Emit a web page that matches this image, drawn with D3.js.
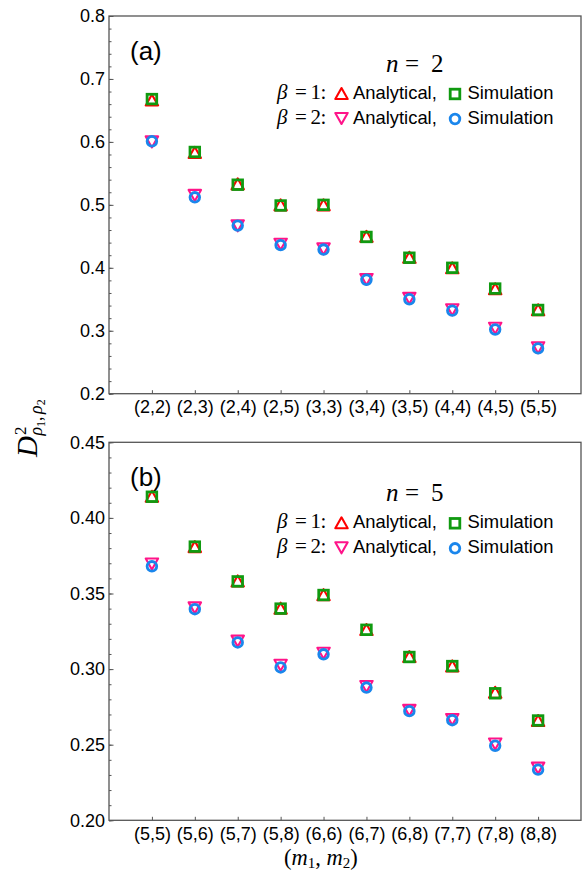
<!DOCTYPE html>
<html lang="en">
<head>
<meta charset="UTF-8">
<title>Distance vs (m1, m2)</title>
<script src="https://d3js.org/d3.v7.min.js"></script>
<style>
  body { margin: 0; background: #fff; }
  svg { display: block; }
  .sans { font-family: "Liberation Sans", Arial, sans-serif; }
  .serif { font-family: "Liberation Serif", "Times New Roman", serif; }
</style>
</head>
<body>
<svg width="584" height="871"></svg>
<script>
// panel (a), n = 2
const catsA = ["(2,2)", "(2,3)", "(2,4)", "(2,5)", "(3,3)", "(3,4)", "(3,5)", "(4,4)", "(4,5)", "(5,5)"];
const a_beta1_analytical = [0.6667, 0.5833, 0.5333, 0.5000, 0.5000, 0.4500, 0.4167, 0.4000, 0.3667, 0.3333];
const a_beta1_simulation = [0.668, 0.584, 0.532, 0.499, 0.500, 0.449, 0.416, 0.400, 0.367, 0.333];
const a_beta2_analytical = [0.6000, 0.5150, 0.4667, 0.4375, 0.4300, 0.3815, 0.3515, 0.3333, 0.3040, 0.2730];
const a_beta2_simulation = [0.601, 0.512, 0.467, 0.436, 0.429, 0.381, 0.350, 0.332, 0.302, 0.272];
const ticksA = [0.2, 0.3, 0.4, 0.5, 0.6, 0.7, 0.8];

// panel (b), n = 5
const catsB = ["(5,5)", "(5,6)", "(5,7)", "(5,8)", "(6,6)", "(6,7)", "(6,8)", "(7,7)", "(7,8)", "(8,8)"];
const b_beta1_analytical = [0.4143, 0.3810, 0.3583, 0.3403, 0.3492, 0.3262, 0.3083, 0.3021, 0.2847, 0.2660];
const b_beta1_simulation = [0.414, 0.381, 0.358, 0.340, 0.349, 0.326, 0.308, 0.302, 0.284, 0.266];
const b_beta2_analytical = [0.3695, 0.3405, 0.3185, 0.3025, 0.3105, 0.2885, 0.2727, 0.2667, 0.2505, 0.2345];
const b_beta2_simulation = [0.368, 0.3396, 0.3176, 0.3011, 0.3098, 0.2878, 0.2722, 0.2662, 0.2493, 0.2335];
const ticksB = [0.20, 0.25, 0.30, 0.35, 0.40, 0.45];

const RED = "#ff0000", PINK = "#ff1489", GREEN = "#109a10", BLUE = "#1a86ec";
const FRAME = "#555";
const L = 109, R = 581;

const svg = d3.select("svg");

const triUp = "M0,-5.5L6.2,5.5L-6.2,5.5Z";
const triDown = "M0,5.5L6.2,-5.5L-6.2,-5.5Z";

function marker(sel, kind, color) {
  if (kind === "triUp" || kind === "triDown") {
    sel.append("path").attr("d", kind === "triUp" ? triUp : triDown)
      .attr("fill", "none").attr("stroke", color).attr("stroke-width", 2.1)
      .attr("stroke-linejoin", "round");
  } else if (kind === "square") {
    sel.append("rect").attr("x", -4.8).attr("y", -4.8).attr("width", 9.6).attr("height", 9.6)
      .attr("fill", "none").attr("stroke", color).attr("stroke-width", 2.8);
  } else {
    sel.append("circle").attr("r", 4.8)
      .attr("fill", "none").attr("stroke", color).attr("stroke-width", 2.8);
  }
}

function panel(p) {
  const g = svg.append("g");
  const x = d3.scalePoint().domain(p.cats).range([L, R]).padding(1);
  const y = d3.scaleLinear().domain([p.ticks[0], p.ticks[p.ticks.length - 1]]).range([p.bottom, p.top]);

  // minor ticks
  g.append("g").attr("transform", `translate(${L},0)`)
    .call(d3.axisLeft(y).ticks(p.minor).tickSizeInner(-2.5).tickSizeOuter(0).tickFormat(""))
    .call(a => a.select(".domain").remove())
    .call(a => a.selectAll("line").attr("stroke", FRAME));

  // major y ticks
  g.append("g").attr("transform", `translate(${L},0)`)
    .call(d3.axisLeft(y).tickValues(p.ticks).tickFormat(d3.format(p.fmt))
      .tickSizeInner(-4.5).tickSizeOuter(0).tickPadding(4))
    .call(a => a.select(".domain").remove())
    .call(a => a.selectAll("line").attr("stroke", FRAME))
    .call(a => a.selectAll("text").attr("class", "sans").attr("font-size", 18).attr("fill", "#000"));

  // x ticks
  g.append("g").attr("transform", `translate(0,${p.bottom})`)
    .call(d3.axisBottom(x).tickSizeInner(-3.5).tickSizeOuter(0).tickPadding(7))
    .call(a => a.select(".domain").remove())
    .call(a => a.selectAll("line").attr("stroke", FRAME))
    .call(a => a.selectAll("text").attr("class", "sans").attr("font-size", 18).attr("fill", "#000"));

  // frame
  g.append("rect").attr("x", L).attr("y", p.top)
    .attr("width", R - L).attr("height", p.bottom - p.top)
    .attr("fill", "none").attr("stroke", FRAME).attr("stroke-width", 1.3);

  // data marks
  const series = [
    { vals: p.b1a, kind: "triUp", color: RED },
    { vals: p.b2a, kind: "triDown", color: PINK },
    { vals: p.b1s, kind: "square", color: GREEN },
    { vals: p.b2s, kind: "circle", color: BLUE }
  ];
  series.forEach(s => {
    g.append("g").selectAll("g")
      .data(s.vals.map((v, i) => ({ c: p.cats[i], v })))
      .join("g")
      .attr("transform", d => `translate(${x(d.c)},${y(d.v)})`)
      .each(function () { marker(d3.select(this), s.kind, s.color); });
  });

  // panel label
  g.append("text").attr("class", "sans").attr("x", 130).attr("y", p.top + 43.5)
    .attr("font-size", 26).text(p.label);

  // legend
  const t = p.top + p.shift;
  const nT = g.append("g").attr("class", "serif").attr("font-size", 25);
  nT.append("text").attr("x", 386).attr("y", t + 56).attr("font-style", "italic").text("n");
  nT.append("text").attr("x", 405).attr("y", t + 56).text("=");
  nT.append("text").attr("x", 431).attr("y", t + 56).text(p.n);

  [["1", "triUp", RED, "square", GREEN, 82.5], ["2", "triDown", PINK, "circle", BLUE, 107.5]]
    .forEach(([b, k1, c1, k2, c2, dy]) => {
      const by = t + dy;
      const r = g.append("g");
      const st = r.append("g").attr("class", "serif").attr("font-size", 21);
      st.append("text").attr("x", 277).attr("y", by).attr("font-style", "italic").text("β");
      st.append("text").attr("x", 295).attr("y", by).text("=");
      st.append("text").attr("x", 310.5).attr("y", by).text(b);
      st.append("text").attr("x", 320.5).attr("y", by).text(":");
      marker(r.append("g").attr("transform", `translate(341.5,${by - 5})`), k1, c1);
      r.append("text").attr("class", "sans").attr("font-size", 18.4).attr("x", 353).attr("y", by).text("Analytical,");
      marker(r.append("g").attr("transform", `translate(455,${by - 4.5})`), k2, c2);
      r.append("text").attr("class", "sans").attr("font-size", 18.4).attr("x", 467.5).attr("y", by).text("Simulation");
    });
}

panel({ cats: catsA, ticks: ticksA, fmt: ".1f", minor: 30, top: 16, bottom: 393.7,
  b1a: a_beta1_analytical, b1s: a_beta1_simulation, b2a: a_beta2_analytical, b2s: a_beta2_simulation,
  label: "(a)", n: "2", shift: 0 });

panel({ cats: catsB, ticks: ticksB, fmt: ".2f", minor: 25, top: 442.3, bottom: 820.3,
  b1a: b_beta1_analytical, b1s: b_beta1_simulation, b2a: b_beta2_analytical, b2s: b_beta2_simulation,
  label: "(b)", n: "5", shift: 3 });

// y title  D^2_{rho1,rho2}
const yt = svg.append("text").attr("class", "serif")
  .attr("transform", "translate(37,457) rotate(-90)").attr("font-size", 29);
yt.append("tspan").attr("font-style", "italic").text("D");
yt.append("tspan").attr("font-size", 17).attr("dy", -11).attr("dx", 1).text("2");
yt.append("tspan").attr("font-size", 18).attr("font-style", "italic").attr("dx", -9).attr("dy", 16).text("ρ");
yt.append("tspan").attr("font-size", 12).attr("dy", 3).text("1");
yt.append("tspan").attr("font-size", 18).attr("dy", -3).text(", ");
yt.append("tspan").attr("font-size", 18).attr("font-style", "italic").attr("dx", -2).text("ρ");
yt.append("tspan").attr("font-size", 12).attr("dy", 3).text("2");

// x title (m1, m2)
const xt = svg.append("text").attr("class", "serif").attr("x", 284).attr("y", 865).attr("font-size", 22.5);
xt.append("tspan").text("(");
xt.append("tspan").attr("font-style", "italic").text("m");
xt.append("tspan").attr("font-size", 15).attr("dy", 3).text("1");
xt.append("tspan").attr("dy", -3).text(", ");
xt.append("tspan").attr("font-style", "italic").text("m");
xt.append("tspan").attr("font-size", 15).attr("dy", 3).text("2");
xt.append("tspan").attr("dy", -3).text(")");
</script>
</body>
</html>
